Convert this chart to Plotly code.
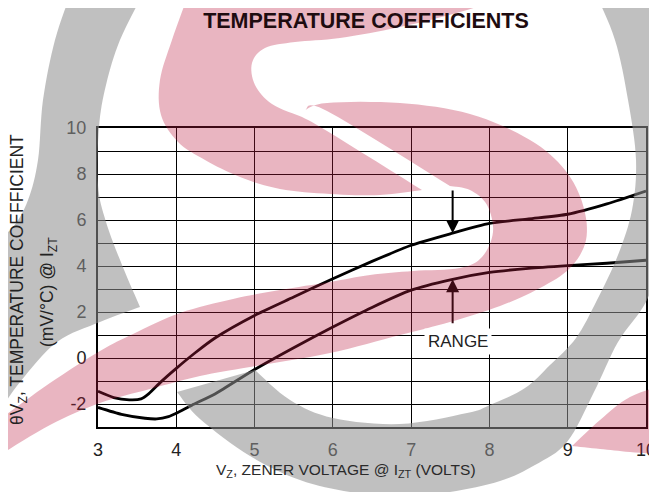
import plotly.graph_objects as go

# ---------------- data ----------------
vz_upper = [3.0, 3.2, 3.4, 3.55, 3.65, 3.8, 4.0, 4.25, 4.5, 5.0, 5.5, 6.0, 6.5, 7.0, 7.5, 8.0, 8.5, 9.0, 9.5, 10.0]
tc_upper = [-1.45, -1.72, -1.82, -1.78, -1.55, -1.05, -0.45, 0.25, 0.88, 1.85, 2.65, 3.45, 4.2, 4.9, 5.4, 5.85, 6.05, 6.25, 6.7, 7.26]

vz_lower = [3.0, 3.3, 3.6, 3.75, 3.9, 4.0, 4.2, 4.5, 5.0, 5.5, 6.0, 6.5, 7.0, 7.5, 8.0, 8.5, 9.0, 9.5, 10.0]
tc_lower = [-2.15, -2.45, -2.62, -2.65, -2.55, -2.4, -2.05, -1.55, -0.5, 0.45, 1.35, 2.2, 2.95, 3.4, 3.72, 3.9, 4.02, 4.12, 4.25]

x_ticks = [3, 4, 5, 6, 7, 8, 9, 10]
y_ticks = [-2, 0, 2, 4, 6, 8, 10]
y_labels = ['-2', '0', '2', '4', '6', '8', '10']
y_minor = [-3, -1, 1, 3, 5, 7, 9]

arrow_x = 7.53
range_label = "RANGE"

# ---------------- geometry helpers (layout only) ----------------
OFF = 8                      # page body margin
PAGE_W, PAGE_H = 657, 492
W, H = PAGE_W - OFF, PAGE_H - OFF
PL, PR, PT, PB = 98, 646, 128, 427   # plot area in page pixels
PW, PH = PR - PL, PB - PT


def px2paper(px, py):
    return (px - PL) / PW, (PB - py) / PH


def catmull(pts, n=8):
    if len(pts) < 3:
        return list(pts)
    out = []
    P = [pts[0]] + list(pts) + [pts[-1]]
    for i in range(1, len(P) - 2):
        p0, p1, p2, p3 = P[i - 1], P[i], P[i + 1], P[i + 2]
        for k in range(n):
            t = k / n
            t2, t3 = t * t, t * t * t
            x = 0.5 * ((2 * p1[0]) + (-p0[0] + p2[0]) * t + (2 * p0[0] - 5 * p1[0] + 4 * p2[0] - p3[0]) * t2 + (-p0[0] + 3 * p1[0] - 3 * p2[0] + p3[0]) * t3)
            y = 0.5 * ((2 * p1[1]) + (-p0[1] + p2[1]) * t + (2 * p0[1] - 5 * p1[1] + 4 * p2[1] - p3[1]) * t2 + (-p0[1] + 3 * p1[1] - 3 * p2[1] + p3[1]) * t3)
            out.append((x, y))
    out.append(pts[-1])
    return out


def make_path(segments):
    pts = []
    for seg in segments:
        pts.extend(catmull(seg))
    s = []
    for i, (x, y) in enumerate(pts):
        xp, yp = px2paper(x, y)
        s.append(("M" if i == 0 else "L") + f"{xp:.4f},{yp:.4f}")
    return " ".join(s) + " Z"


# watermark outlines (page pixel space, decoration)
pink_a = [
    [(530, -10), (190, -10)],
    [(190, -10), (172, 40), (160, 80), (161, 115), (178, 142), (205, 160), (240, 177), (280, 189), (330, 194), (380, 195), (422, 190)],
    [(422, 190), (327, 131), (302, 117)],
    [(302, 117), (272, 104), (255, 85), (252, 63), (265, 48), (295, 42), (340, 38), (400, 27), (460, 12), (530, -10)],
]
pink_b = [
    [(305, 110), (327, 103), (400, 103), (470, 114), (530, 140), (565, 170), (583, 205), (586, 240), (570, 268), (540, 288), (500, 306),
     (450, 322), (400, 335), (330, 353), (250, 367), (200, 376), (150, 389), (100, 403), (50, 425), (0, 455), (-15, 466)],
    [(-15, 466), (-15, 428)],
    [(-15, 428), (0, 419), (50, 383), (100, 351), (133, 334), (180, 313), (233, 299), (280, 290), (330, 282), (370, 275), (413, 271), (460, 268),
     (482, 257), (493, 232), (487, 205), (470, 190), (450, 186)],
    [(450, 186), (327, 111), (305, 110)],
]
pink_c = [
    [(572, 446), (600, 420), (630, 397), (670, 383)],
    [(670, 383), (670, 455)],
    [(670, 455), (630, 452), (600, 449), (572, 446)],
]
grey_a = [
    [(72, -10), (55, 40), (43, 100), (38, 160), (28, 200), (12, 228), (-15, 250)],
    [(-15, 250), (-15, 425)],
    [(-15, 425), (0, 410), (20, 382), (57, 342), (100, 322), (140, 307)],
    [(140, 307), (122, 265), (106, 222), (98, 185), (99, 127), (106, 85), (120, 40), (145, -10)],
]
grey_b = [
    [(594, -10), (615, 40), (628, 100), (636, 160), (632, 210), (618, 255), (597, 300), (576, 338), (550, 365), (525, 388),
     (490, 405), (467, 413), (400, 424), (333, 418), (290, 400), (255, 370)],
    [(255, 370), (177, 392)],
    [(177, 392), (200, 419), (250, 456), (300, 480), (350, 492), (400, 496), (450, 492), (500, 481), (535, 465), (567, 442),
     (594, 392), (618, 342), (647, 300), (662, 250), (676, 200), (690, 100), (690, -10)],
]

PINK = "rgb(188,30,67)"
GREY = "rgb(143,143,143)"
shapes = []
for segs, col, op in [(grey_a, GREY, 0.56), (grey_b, GREY, 0.56), (pink_a, PINK, 0.33), (pink_b, PINK, 0.33), (pink_c, PINK, 0.33)]:
    shapes.append(dict(type="path", path=make_path(segs), xref="paper", yref="paper",
                       fillcolor=col, opacity=op, line=dict(width=0), layer="above"))

FONT = "Liberation Sans, Arial, Helvetica, sans-serif"

fig = go.Figure()
fig.add_trace(go.Scatter(x=vz_upper, y=tc_upper, mode="lines", line=dict(color="black", width=2.8, shape="spline", smoothing=0.6),
                         showlegend=False, hoverinfo="skip"))
fig.add_trace(go.Scatter(x=vz_lower, y=tc_lower, mode="lines", line=dict(color="black", width=2.8, shape="spline", smoothing=0.6),
                         showlegend=False, hoverinfo="skip"))

annotations = []
# y axis title lines
x1, y1 = px2paper(18, 280)
annotations.append(dict(text="θV<sub>Z</sub>, TEMPERATURE COEFFICIENT", x=x1, y=y1, xref="paper", yref="paper",
                        textangle=-90, showarrow=False, xanchor="center", yanchor="middle",
                        font=dict(family=FONT, size=17.5, color="#222")))
x2, y2 = px2paper(48, 292)
annotations.append(dict(text="(mV/°C) @ I<sub>ZT</sub>", x=x2, y=y2, xref="paper", yref="paper",
                        textangle=-90, showarrow=False, xanchor="center", yanchor="middle",
                        font=dict(family=FONT, size=17.5, color="#222")))
# x axis title
x3, y3 = px2paper(346, 471)
annotations.append(dict(text="V<sub>Z</sub>, ZENER VOLTAGE @ I<sub>ZT</sub> (VOLTS)", x=x3, y=y3, xref="paper", yref="paper",
                        showarrow=False, xanchor="center", yanchor="middle",
                        font=dict(family=FONT, size=15.5, color="#2a2a2a")))
# arrows
up_tip = tc_upper[vz_upper.index(7.5)] + 0.02
lo_tip = tc_lower[vz_lower.index(7.5)] + 0.02
annotations.append(dict(x=arrow_x, y=up_tip, ax=arrow_x, ay=7.35, xref="x", yref="y", axref="x", ayref="y",
                        text="", showarrow=True, arrowhead=2, arrowsize=1.3, arrowwidth=2, arrowcolor="black", standoff=0))
annotations.append(dict(x=arrow_x, y=lo_tip, ax=arrow_x, ay=1.45, xref="x", yref="y", axref="x", ayref="y",
                        text="", showarrow=True, arrowhead=2, arrowsize=1.3, arrowwidth=2, arrowcolor="#3c0a14", standoff=0))
annotations.append(dict(x=7.6, y=0.72, xref="x", yref="y", text=range_label, showarrow=False, bgcolor="white",
                        font=dict(family=FONT, size=17, color="#222"), borderpad=3))

fig.update_layout(
    width=W, height=H, autosize=False,
    margin=dict(l=PL - OFF, r=PAGE_W - PR, t=PT - OFF, b=PAGE_H - PB, pad=0, autoexpand=False),
    paper_bgcolor="white", plot_bgcolor="white",
    title=dict(text="<b>TEMPERATURE COEFFICIENTS</b>", x=(366 - OFF) / W, xanchor="center", xref="container",
               y=1 - (20 - OFF) / H, yanchor="middle", yref="container",
               font=dict(family=FONT, size=21.5, color="#1e0c10")),
    xaxis=dict(range=[3, 10], tickmode="array", tickvals=x_ticks, ticktext=[str(v) for v in x_ticks],
               showgrid=True, gridcolor="black", gridwidth=1, zeroline=False, automargin=False,
               showline=True, linecolor="black", linewidth=2, mirror=True, ticks="",
               tickfont=dict(family=FONT, size=18, color="#222"), ticklabelstandoff=5, fixedrange=True),
    yaxis=dict(range=[-3, 10], tickmode="array", tickvals=y_ticks, ticktext=y_labels,
               minor=dict(tickmode="array", tickvals=y_minor, showgrid=True, gridcolor="black", gridwidth=1, ticks=""),
               showgrid=True, gridcolor="black", gridwidth=1, zeroline=False, automargin=False,
               showline=True, linecolor="black", linewidth=2, mirror=True, ticks="",
               tickfont=dict(family=FONT, size=18, color="#222"), ticklabelstandoff=6, fixedrange=True),
    shapes=shapes,
    annotations=annotations,
    showlegend=False,
)

fig.write_html("out.html")
